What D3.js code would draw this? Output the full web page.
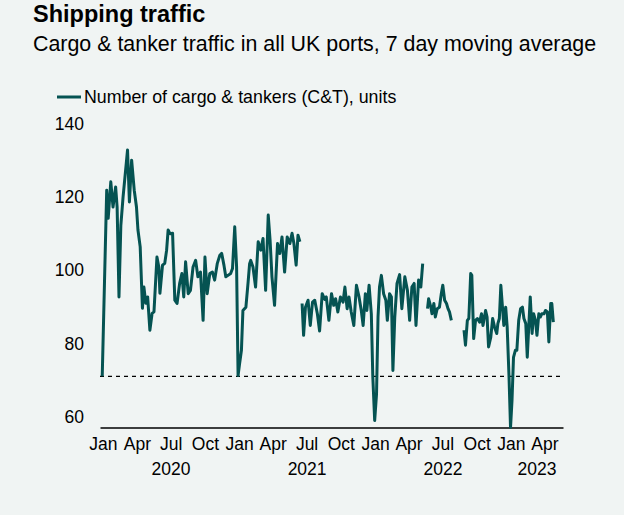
<!DOCTYPE html>
<html><head><meta charset="utf-8">
<script src="https://cdn.jsdelivr.net/npm/d3@7"></script>
<style>
html,body{margin:0;padding:0;background:#f0f4f3;}
svg{display:block;font-family:"Liberation Sans",Arial,Helvetica,sans-serif;}
</style></head><body>
<svg id="chart" width="624" height="515"></svg>
<script>
// ---- data (null marks a gap in the series) ----
const dates = [
"2019-12-30","2020-01-11","2020-01-15","2020-01-22","2020-01-28","2020-02-04","2020-02-08","2020-02-13","2020-02-18","2020-02-24",
"2020-03-07","2020-03-12","2020-03-18","2020-03-25","2020-03-31","2020-04-04","2020-04-10","2020-04-16","2020-04-20","2020-04-25",
"2020-04-30","2020-05-06","2020-05-12","2020-05-17","2020-05-25","2020-05-30","2020-06-02","2020-06-09","2020-06-15","2020-06-20",
"2020-06-24","2020-06-29","2020-07-06","2020-07-12","2020-07-18","2020-07-25","2020-07-31","2020-08-05","2020-08-10","2020-08-17",
"2020-08-23","2020-08-30","2020-09-06","2020-09-12","2020-09-19","2020-09-26","2020-10-01","2020-10-07","2020-10-14","2020-10-21",
"2020-10-27","2020-11-03","2020-11-10","2020-11-15","2020-11-21","2020-11-26","2020-12-02","2020-12-09","2020-12-14","2020-12-20",
"2020-12-25","2020-12-29","2021-01-02","2021-01-07","2021-01-11","2021-01-19","2021-01-25","2021-01-29","2021-02-01","2021-02-07",
"2021-02-14","2021-02-21","2021-02-28","2021-03-06","2021-03-13","2021-03-20","2021-03-25","2021-03-30","2021-04-06","2021-04-14",
"2021-04-20","2021-04-26","2021-05-03","2021-05-10","2021-05-17","2021-05-23","2021-05-28","2021-06-03","2021-06-08","2021-06-13",
"2021-06-16",
"2021-06-19","2021-06-23","2021-06-28","2021-07-05","2021-07-11","2021-07-17","2021-07-23","2021-07-30","2021-08-05","2021-08-12",
"2021-08-19","2021-08-23","2021-08-30","2021-09-06","2021-09-12","2021-09-17","2021-09-23","2021-09-30","2021-10-07","2021-10-12",
"2021-10-18","2021-10-23","2021-10-29","2021-11-05","2021-11-12","2021-11-19","2021-11-25","2021-11-30","2021-12-06","2021-12-10",
"2021-12-16","2021-12-22","2021-12-26","2021-12-31","2022-01-05","2022-01-09","2022-01-13","2022-01-18","2022-01-24","2022-01-30",
"2022-02-03","2022-02-09","2022-02-14","2022-02-18","2022-02-23","2022-03-01","2022-03-08","2022-03-14","2022-03-22","2022-03-29",
"2022-04-04","2022-04-10","2022-04-16","2022-04-21","2022-04-28","2022-05-04","2022-05-09",
"2022-05-15",
"2022-05-22","2022-05-25","2022-05-31","2022-06-03","2022-06-08","2022-06-12","2022-06-17","2022-06-23","2022-06-28","2022-07-02",
"2022-07-07","2022-07-12","2022-07-16","2022-07-20","2022-07-25",
"2022-08-10",
"2022-08-28","2022-09-01","2022-09-06","2022-09-10","2022-09-15","2022-09-18","2022-09-23","2022-09-28","2022-10-03","2022-10-09",
"2022-10-14","2022-10-18","2022-10-25","2022-10-29","2022-11-02","2022-11-08","2022-11-13","2022-11-18","2022-11-24","2022-11-27",
"2022-12-01","2022-12-05","2022-12-10","2022-12-13","2022-12-18","2022-12-22","2022-12-27","2022-12-31","2023-01-04","2023-01-08",
"2023-01-13","2023-01-17","2023-01-22","2023-01-27","2023-02-01","2023-02-05","2023-02-10","2023-02-14","2023-02-18","2023-02-22",
"2023-02-27","2023-03-03","2023-03-08","2023-03-12","2023-03-17","2023-03-21","2023-03-25","2023-03-31","2023-04-04","2023-04-09",
"2023-04-13","2023-04-18","2023-04-21","2023-04-25"
];
const values = [
71,121.9,114.2,124.2,117.3,122.8,117.3,92.7,112.3,120.1,
132.9,118.7,130.1,121.9,117.3,111,106.4,89.6,95.4,91,
92.7,83.6,88.2,88.6,103.6,100.9,93.7,101.4,101.9,105.5,
111,110,110.1,91.8,90.9,96.4,99.1,92.7,102.3,93.6,
94.5,100.9,102.7,98.2,99.5,86.3,103.6,93.6,99.1,99.5,
97.3,101.8,104.1,104.6,101.4,98.2,98.6,99.1,100.5,111.9,
100.9,71.2,74.4,78.1,89,89.9,96.8,101.8,102.7,100.9,
95.4,107.8,105.5,108.7,94.5,115.1,108.2,98.2,90.4,107.3,
104.6,109.1,99.5,109.1,107.3,110.1,107.3,101.4,109.6,107.8,
null,
90.9,82.2,89.9,91.8,84.9,91.3,91.8,88.1,83.4,93.6,
92,92.7,86.3,93.6,90.4,92.2,88.6,92.7,91.3,95.4,
89.5,92.7,88.6,84.9,95.9,92.7,89,84.9,93.6,89,
95.9,88.1,70.8,58.9,66.2,87.2,95.4,98.6,93.6,91.8,
86.3,93.6,92.7,72.6,87.2,96.4,98.8,89.5,98.2,94.5,
86.3,95.4,96.4,84.9,97.3,95.4,101.8,
null,
89.5,92.2,89.9,88.1,90.9,87.2,89.5,89.9,93.6,95.9,
91.8,90.9,89.5,88.6,86.3,
null,
83.6,79.5,86.3,86.8,99.1,98.6,81.3,86.3,86.8,85.8,
88.1,84.9,89,87.2,79,81.7,86.8,84.5,82.7,85.4,
86.8,95.9,89,84.9,89.9,84.5,70.8,57,64.4,76.2,
78.1,78.1,86.3,89.5,89.9,86.8,85.4,76.2,84.5,92.7,
82.7,88.1,86.3,82.2,88.1,87.2,88.1,88.1,89,88.6,
80.4,90.9,90.9,85.8
];
const referenceValue = 71;
const yTickValues = [60, 80, 100, 120, 140];
const monthTickDates = ["2020-01-01","2020-04-01","2020-07-01","2020-10-01","2021-01-01","2021-04-01","2021-07-01","2021-10-01",
                        "2022-01-01","2022-04-01","2022-07-01","2022-10-01","2023-01-01","2023-04-01"];
const monthTickLabels = ["Jan","Apr","Jul","Oct","Jan","Apr","Jul","Oct","Jan","Apr","Jul","Oct","Jan","Apr"];
const yearLabels = ["2020","2021","2022","2023"];
const titleText = "Shipping traffic";
const subtitleText = "Cargo & tanker traffic in all UK ports, 7 day moving average";
const legendText = "Number of cargo & tankers (C&T), units";

// ---- drawing ----
const parse = d3.utcParse("%Y-%m-%d");
const data = dates.map((d, i) => ({ date: parse(d), v: values[i] }));
const lineColor = "#055352";
const svg = d3.select("#chart");
const xStart = parse("2019-12-24"), xEnd = parse("2023-05-21");
const x = d3.scaleUtc().domain([xStart, xEnd]).range([100, 563]);
const y = d3.scaleLinear().domain([60, 140]).range([416.5, 124]);
const axisY = 427.5;

svg.append("rect").attr("width", 624).attr("height", 515).attr("fill", "#f0f4f3");

svg.append("text").attr("x", 33).attr("y", 22).attr("font-size", 23.5).attr("font-weight", "bold")
  .attr("fill", "#000").text(titleText);
svg.append("text").attr("x", 33).attr("y", 51).attr("font-size", 21.4)
  .attr("fill", "#000").text(subtitleText);

// legend
const lg = svg.append("g");
lg.append("line").attr("x1", 57).attr("x2", 81).attr("y1", 97).attr("y2", 97)
  .attr("stroke", lineColor).attr("stroke-width", 3);
lg.append("text").attr("x", 84).attr("y", 97).attr("dy", "0.35em").attr("font-size", 17.8)
  .attr("fill", "#000").text(legendText);

// y tick labels
svg.append("g").selectAll("text").data(yTickValues).join("text")
  .attr("x", 84).attr("y", d => y(d)).attr("dy", "0.35em").attr("text-anchor", "end")
  .attr("font-size", 17.5).attr("fill", "#000").text(d => d);

// reference dashed line
svg.append("line").attr("x1", x(xStart)).attr("x2", x(xEnd))
  .attr("y1", y(referenceValue)).attr("y2", y(referenceValue))
  .attr("stroke", "#000").attr("stroke-width", 1.3).attr("stroke-dasharray", "4,4");

// x axis
const xAxis = d3.axisBottom(x)
  .tickValues(monthTickDates.map(parse))
  .tickFormat((d, i) => monthTickLabels[i])
  .tickSize(0).tickPadding(10);
const gx = svg.append("g").attr("transform", `translate(0,${axisY})`).call(xAxis);
gx.select(".domain").attr("stroke", "#000").attr("stroke-width", 1.3);
gx.selectAll(".tick text").attr("font-size", 17.5).attr("fill", "#000")
  .attr("font-family", "'Liberation Sans',Arial,sans-serif");

// year labels centred on the visible part of each year
svg.append("g").selectAll("text").data(yearLabels).join("text")
  .attr("x", d => {
    const a = Math.max(+parse(d + "-01-01"), +xStart);
    const b = Math.min(+parse((+d + 1) + "-01-01"), +xEnd);
    return (x(new Date(a)) + x(new Date(b))) / 2;
  })
  .attr("y", 475).attr("text-anchor", "middle").attr("font-size", 17.5).attr("fill", "#000")
  .text(d => d);

// series
const line = d3.line().defined(d => d.v != null).x(d => x(d.date)).y(d => y(d.v));
svg.append("path").datum(data).attr("d", line).attr("fill", "none")
  .attr("stroke", lineColor).attr("stroke-width", 3).attr("stroke-linejoin", "round");
</script>
</body></html>
